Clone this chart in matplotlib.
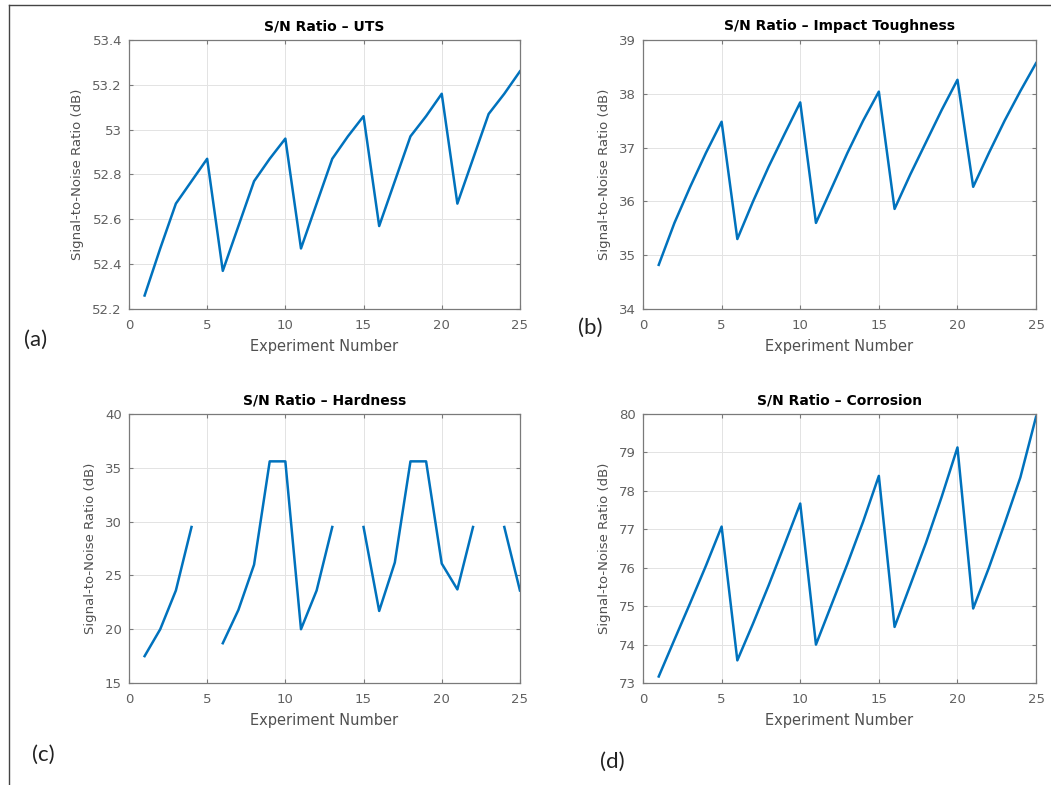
import numpy as np
import matplotlib.pyplot as plt
from matplotlib.lines import Line2D
from matplotlib.ticker import FuncFormatter

# Experiment numbers (L25 orthogonal array)
experiments = np.arange(1, 26)

# S/N ratios (dB)
uts = [52.26, 52.47, 52.67, 52.77, 52.87,
       52.37, 52.57, 52.77, 52.87, 52.96,
       52.47, 52.67, 52.87, 52.97, 53.06,
       52.57, 52.77, 52.97, 53.06, 53.16,
       52.67, 52.87, 53.07, 53.16, 53.26]
impact = [34.82, 35.60, 36.27, 36.90, 37.48,
          35.30, 36.00, 36.65, 37.25, 37.84,
          35.60, 36.25, 36.90, 37.50, 38.04,
          35.86, 36.50, 37.10, 37.70, 38.26,
          36.27, 36.90, 37.50, 38.05, 38.57]
hardness = [17.5, 20.0, 23.6, 29.5, np.nan,
            18.7, 21.8, 26.0, 35.6, 35.6,
            20.0, 23.6, 29.5, np.nan, 29.5,
            21.7, 26.2, 35.6, 35.6, 26.1,
            23.7, 29.5, np.nan, 29.5, 23.6]
corrosion = [73.17, 74.13, 75.08, 76.05, 77.07,
             73.59, 74.55, 75.55, 76.60, 77.67,
             74.00, 75.05, 76.10, 77.20, 78.39,
             74.46, 75.55, 76.65, 77.85, 79.13,
             74.94, 76.00, 77.15, 78.35, 79.93]

titles = ['S/N Ratio \u2013 UTS', 'S/N Ratio \u2013 Impact Toughness',
          'S/N Ratio \u2013 Hardness', 'S/N Ratio \u2013 Corrosion']
series = [uts, impact, hardness, corrosion]
ylims = [(52.2, 53.4), (34, 39), (15, 40), (73, 80)]
yticks = [np.arange(52.2, 53.41, 0.2), np.arange(34, 40, 1),
          np.arange(15, 41, 5), np.arange(73, 81, 1)]
panel_labels = ['(a)', '(b)', '(c)', '(d)']

# axes boxes in figure fractions
boxes = [[0.1227, 0.6064, 0.372, 0.3427],
         [0.6118, 0.6064, 0.374, 0.3427],
         [0.1227, 0.1299, 0.372, 0.3427],
         [0.6118, 0.1299, 0.374, 0.3427]]
label_pos = [(0.0343, 0.567), (0.5614, 0.582), (0.0409, 0.038), (0.5823, 0.029)]

plt.rcParams['font.family'] = 'DejaVu Sans'
fig = plt.figure(figsize=(10.51, 7.85), dpi=100)

blue = '#0072BD'
for i in range(4):
    ax = fig.add_axes(boxes[i])
    ax.plot(experiments, series[i], color=blue, linewidth=1.8)
    ax.set_xlim(0, 25)
    ax.set_ylim(*ylims[i])
    ax.set_xticks([0, 5, 10, 15, 20, 25])
    ax.set_yticks(yticks[i])
    ax.yaxis.set_major_formatter(FuncFormatter(lambda v, p: '%g' % round(v, 2)))
    ax.grid(True, color='#e3e3e3', linewidth=0.7)
    ax.set_axisbelow(True)
    for s in ax.spines.values():
        s.set_color('#7a7a7a')
        s.set_linewidth(0.9)
    ax.tick_params(direction='in', length=3, top=True, right=True,
                   colors='#7a7a7a', labelcolor='#606060', labelsize=9.5)
    ax.tick_params(axis='x', pad=7)
    ax.tick_params(axis='y', pad=5)
    ax.set_title(titles[i], fontsize=10, fontweight='bold', pad=7)
    ax.set_xlabel('Experiment Number', fontsize=10.5, color='#505050', labelpad=5)
    ax.set_ylabel('Signal-to-Noise Ratio (dB)', fontsize=9.5, color='#505050', labelpad=6)
    fig.text(label_pos[i][0], label_pos[i][1], panel_labels[i], fontsize=16,
             family=['Lato', 'DejaVu Sans'], color='#222222', ha='center', va='center')

# frame edges of the screenshot
fig.add_artist(Line2D([8.5 / 1051, 1], [1 - 4.5 / 785, 1 - 4.5 / 785], color='#444444', linewidth=1.0))
fig.add_artist(Line2D([8.5 / 1051, 8.5 / 1051], [0, 1 - 4.5 / 785], color='#444444', linewidth=1.0))

fig.savefig('out.png', dpi=100)
